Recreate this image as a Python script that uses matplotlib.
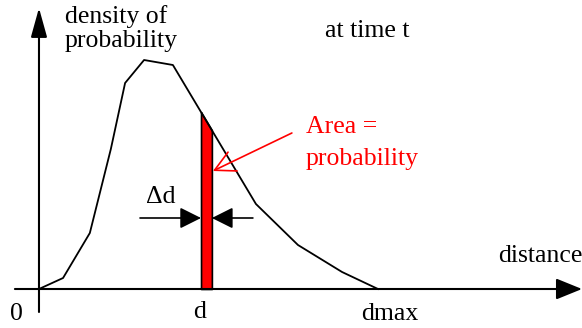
import numpy as np
import matplotlib.pyplot as plt

# curve (distance, density)
distance = [0.0, 0.71, 1.50, 2.12, 2.54, 3.10, 3.95, 6.40, 7.64, 8.94, 10.0]
density = [0.0, 0.011, 0.056, 0.140, 0.206, 0.229, 0.224, 0.085, 0.044, 0.017, 0.0]

d = 4.78
delta_d = 0.32
dmax = 10.0

plt.rcParams['font.family'] = ['Liberation Serif', 'DejaVu Serif']
FS = 18.5

fig = plt.figure(figsize=(5.82, 3.28), dpi=100)
ax = fig.add_axes([0, 0, 1, 1])
ax.set_xlim(-1.150, 16.018)
ax.set_ylim(-0.039, 0.289)
ax.axis('off')

# axes with arrows
ax.annotate('', xy=(0, 0.281), xytext=(0, -0.023),
            arrowprops=dict(arrowstyle='-|>,head_length=1.8,head_width=0.5',
                            mutation_scale=10, color='black', lw=1.5,
                            shrinkA=0, shrinkB=0))
ax.annotate('', xy=(16.018, 0), xytext=(-0.71, 0),
            arrowprops=dict(arrowstyle='-|>,head_length=1.6,head_width=0.65',
                            mutation_scale=10, color='black', lw=1.5,
                            shrinkA=0, shrinkB=0))

# red strip under the curve
xs = np.linspace(d, d + delta_d, 20)
ys = np.interp(xs, distance, density)
ax.fill_between(xs, 0, ys, facecolor='#ff0000', edgecolor='black', lw=1.2, zorder=2)

ax.plot(distance, density, color='black', lw=1.3, zorder=3)

# delta d arrows
ya = 0.071
ax.annotate('', xy=(d, ya), xytext=(2.98, ya),
            arrowprops=dict(arrowstyle='-|>,head_length=1.3,head_width=0.65',
                            mutation_scale=10, color='black', lw=1.2,
                            shrinkA=0, shrinkB=0))
ax.annotate('', xy=(d + delta_d, ya), xytext=(6.31, ya),
            arrowprops=dict(arrowstyle='-|>,head_length=1.3,head_width=0.65',
                            mutation_scale=10, color='black', lw=1.2,
                            shrinkA=0, shrinkB=0))
ax.text(3.58, 0.086, 'Δd', fontsize=FS, ha='center', va='baseline')

# area annotation
ax.annotate('', xy=(5.13, 0.118), xytext=(7.46, 0.156),
            arrowprops=dict(arrowstyle='->,head_length=1.44,head_width=0.75',
                            mutation_scale=10, color='#ff0000', lw=1.2,
                            shrinkA=0, shrinkB=0))
ax.text(7.88, 0.156, 'Area =', color='#ff0000', fontsize=FS, va='baseline', ha='left')
ax.text(7.88, 0.124, 'probability', color='#ff0000', fontsize=FS, va='baseline', ha='left')

# labels
ax.text(0.77, 0.266, 'density of', fontsize=FS, va='baseline', ha='left')
ax.text(0.77, 0.242, 'probability', fontsize=FS, va='baseline', ha='left')
ax.text(8.44, 0.252, 'at time t', fontsize=FS, va='baseline', ha='left')
ax.text(13.54, 0.027, 'distance', fontsize=FS, va='baseline', ha='left')
ax.text(-0.67, -0.031, '0', fontsize=FS, va='baseline', ha='center')
ax.text(d - 0.05, -0.029, 'd', fontsize=FS, va='baseline', ha='center')
ax.text(dmax + 0.35, -0.031, 'dmax', fontsize=FS, va='baseline', ha='center')

fig.savefig('out.png', dpi=100)
